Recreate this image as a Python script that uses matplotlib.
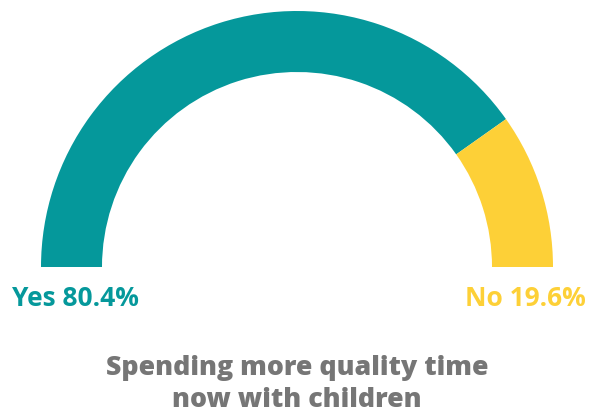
import matplotlib
matplotlib.use("Agg")
import matplotlib.pyplot as plt
from matplotlib.patches import Wedge

labels = ["Yes", "No"]
shares = [80.4, 19.6]
colors = ["#05989b", "#fdd037"]
title = "Spending more quality time\nnow with children"

W, H = 591, 416
fig = plt.figure(figsize=(W / 100, H / 100), dpi=100)
ax = fig.add_axes([0, 0, 1, 1])
ax.set_xlim(0, W)
ax.set_ylim(0, H)
ax.axis("off")

# half donut, starting at the left and sweeping clockwise
cx, cy = 297, H - 267
r_out, r_in = 256, 195
start = 180.0
for share, col in zip(shares, colors):
    sweep = share / 100 * 180
    ax.add_patch(Wedge((cx, cy), r_out, start - sweep, start,
                       width=r_out - r_in, facecolor=col, edgecolor="none"))
    start -= sweep

ax.text(12, H - 298, f"{labels[0]} {shares[0]}%", color=colors[0],
        fontsize=19, fontweight="bold", family="Open Sans",
        ha="left", va="center")
ax.text(586, H - 298, f"{labels[1]} {shares[1]}%", color=colors[1],
        fontsize=19, fontweight="bold", family="Open Sans",
        ha="right", va="center")
ax.text(cx, H - 384, title, color="#767676", fontsize=19.3,
        fontweight="heavy", family="Open Sans", ha="center", va="center",
        linespacing=1.3)

fig.savefig("out.png", dpi=100)
